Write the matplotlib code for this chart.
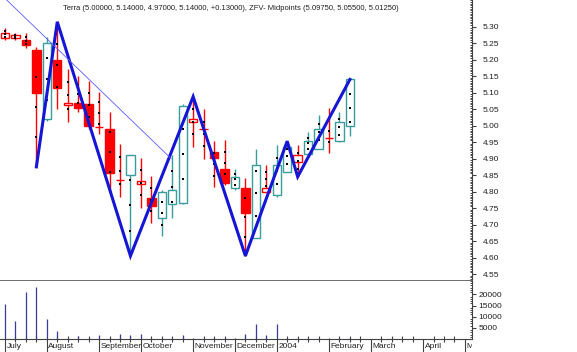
import numpy as np
import matplotlib
matplotlib.use('Agg')
import matplotlib.pyplot as plt
from matplotlib.ticker import MultipleLocator, FixedLocator, NullFormatter, FormatStrFormatter
from matplotlib.patches import Rectangle
import matplotlib.transforms as mtransforms

plt.rcParams['font.family'] = ['Liberation Sans', 'DejaVu Sans']

# weekly bars, Jul 2003 - Feb 2004
opens = [5.265, 5.265, 5.26, 5.23, 5.02, 5.20, 5.062, 5.07, 5.065, 4.997,
         4.99, 4.835, 4.85, 4.823, 4.78, 4.72, 4.763, 4.765, 5.01, 4.99,
         4.92, 4.87, 4.812, 4.81, 4.66, 4.80, 4.79, 4.86, 4.89, 4.913,
         4.93, 4.962, 4.952, 5.00]
highs = [5.297, 5.28, 5.28, 5.24, 5.27, 5.315, 5.172, 5.15, 5.135, 5.103,
         5.04, 4.944, 4.912, 4.903, 4.847, 4.805, 4.91, 5.065, 5.088, 5.05,
         4.952, 4.955, 4.87, 4.84, 4.93, 4.88, 4.94, 4.953, 4.94, 4.982,
         5.032, 5.053, 5.042, 5.14]
lows = [5.26, 5.26, 5.235, 4.875, 5.015, 5.05, 5.012, 5.04, 4.99, 4.974,
        4.80, 4.784, 4.605, 4.751, 4.705, 4.665, 4.72, 4.762, 4.936, 4.90,
        4.813, 4.82, 4.805, 4.605, 4.66, 4.798, 4.785, 4.86, 4.845, 4.91,
        4.93, 4.916, 4.95, 4.97]
closes = [5.28, 5.275, 5.245, 5.10, 5.25, 5.115, 5.07, 5.055, 5.00, 4.997,
          4.855, 4.835, 4.91, 4.832, 4.755, 4.80, 4.805, 5.06, 5.02, 4.99,
          4.903, 4.825, 4.845, 4.735, 4.88, 4.812, 4.88, 4.935, 4.912, 4.952,
          4.99, 4.962, 5.01, 5.14]
prev_close = 5.29
volumes = [15500, 8000, 21200, 23100, 9150, 3500, 300, 1300, 300, 1800,
           300, 2400, 1700, 2100, 300, 300, 300, 1600, 300, 300,
           300, 300, 300, 2100, 6800, 1800, 6800, 300, 300, 600,
           600, 300, 300, 300]

# zigzag swing points (bar index, 'L' low / 'H' high)
zig_idx = [3, 5, 12, 18, 23, 27, 28, 33]
zig_kind = ['L', 'H', 'L', 'H', 'L', 'H', 'L', 'H']

# down trend line end points (bar index, price)
trend_x = [0.16, 15.9]
trend_y = [5.381, 4.90]

month_names = ['July', 'August', 'September', 'October', 'November', 'December',
               '2004', 'February', 'March', 'April', 'May']
month_weeks = [0, 4, 9, 13, 18, 22, 26, 31, 35, 40, 44]
n_weeks = 45

title = ('Terra (5.00000, 5.14000, 4.97000, 5.14000, +0.13000), '
         'ZFV- Midpoints (5.09750, 5.05500, 5.01250)')

RED = '#ff0000'
TEAL = '#3a9c9c'
AX = '#404040'

fig = plt.figure(figsize=(5.77, 3.52), dpi=100)
W, H = 577, 352
ax = fig.add_axes([0, (H - 281) / H, 472 / W, 281 / H])
axv = fig.add_axes([0, (H - 339) / H, 472 / W, 58 / H], sharex=ax)

x = np.arange(len(closes))
o = np.array(opens); c = np.array(closes); h = np.array(highs); l = np.array(lows)
pc = np.concatenate([[prev_close], c[:-1]])
col = np.where(c < pc, RED, TEAL)
filled = c < o

# wicks, bodies
ax.vlines(x, l, h, colors=col, lw=1, zorder=1)
bot = np.minimum(o, c)
hgt = np.abs(c - o)
face = [cc if f else 'white' for cc, f in zip(col, filled)]
ax.bar(x, hgt, bottom=bot, width=0.8, color=face, edgecolor=col, lw=1, zorder=2)

# midpoints indicator: quarter points of high-low range
for q in (0.25, 0.5, 0.75):
    ax.scatter(x, l + q * (h - l), marker='s', s=1.6, color='black', lw=0, zorder=3)

# zigzag
zy = [lows[i] if k == 'L' else highs[i] for i, k in zip(zig_idx, zig_kind)]
ax.plot(zig_idx, zy, color='#1515d5', lw=2.2, zorder=4, solid_joinstyle='miter')
ax.plot(trend_x, trend_y, color='#5a5aff', lw=0.6, zorder=4)

ax.set_xlim(-0.48, 44.68)
ax.set_ylim(4.529, 5.381)

# volume
axv.vlines(x, 0, volumes, colors='#3a3a9a', lw=0.9)
axv.set_ylim(0, 26000)

for a in (ax, axv):
    a.yaxis.tick_right()
    for s in ('left', 'top'):
        a.spines[s].set_visible(False)
    a.spines['right'].set_color(AX)
    a.tick_params(axis='y', colors=AX, labelcolor='#202020', labelsize=6)

ax.spines['bottom'].set_color('#606060')
ax.spines['bottom'].set_linewidth(1.3)
axv.spines['top'].set_visible(False)
axv.spines['bottom'].set_color(AX)

ax.yaxis.set_major_locator(FixedLocator(np.round(np.arange(4.55, 5.301, 0.05), 2)))
ax.yaxis.set_major_formatter(FormatStrFormatter('%.2f'))
ax.yaxis.set_minor_locator(MultipleLocator(0.005))
ax.tick_params(axis='y', which='major', direction='out', length=3, width=0.8, pad=5)
ax.tick_params(axis='y', which='minor', direction='in', length=1.6, width=0.5)

axv.yaxis.set_major_locator(FixedLocator([5000, 10000, 15000, 20000]))
axv.yaxis.set_minor_locator(MultipleLocator(1000))
axv.tick_params(axis='y', which='major', direction='out', length=3, width=0.8, pad=1.5)
axv.tick_params(axis='y', which='minor', direction='in', length=1.6, width=0.5)

ax.tick_params(axis='x', which='both', bottom=False, labelbottom=False)
axv.xaxis.set_major_locator(FixedLocator(month_weeks))
axv.xaxis.set_minor_locator(FixedLocator(range(n_weeks)))
axv.xaxis.set_major_formatter(NullFormatter())
axv.tick_params(axis='x', which='major', direction='out', length=9, width=0.8, colors=AX)
axv.tick_params(axis='x', which='minor', direction='inout', length=4, width=0.8, colors=AX)

clip = Rectangle((0, 0), 472 / W, 1, transform=fig.transFigure)
trans = mtransforms.blended_transform_factory(axv.transData, fig.transFigure)
trans = trans + mtransforms.ScaledTranslation(1.5 / 100, 0, fig.dpi_scale_trans)
for name, wk in zip(month_names, month_weeks):
    t = fig.text(wk, 1 - 346.5 / H, name, transform=trans, fontsize=6,
                 ha='left', va='center', color='#202020')
    t.set_clip_path(clip)

fig.text(63 / W, 1 - 8 / H, title, fontsize=5.5, ha='left', va='center', color='#202020')

fig.savefig('out.png', dpi=100, facecolor='white')
